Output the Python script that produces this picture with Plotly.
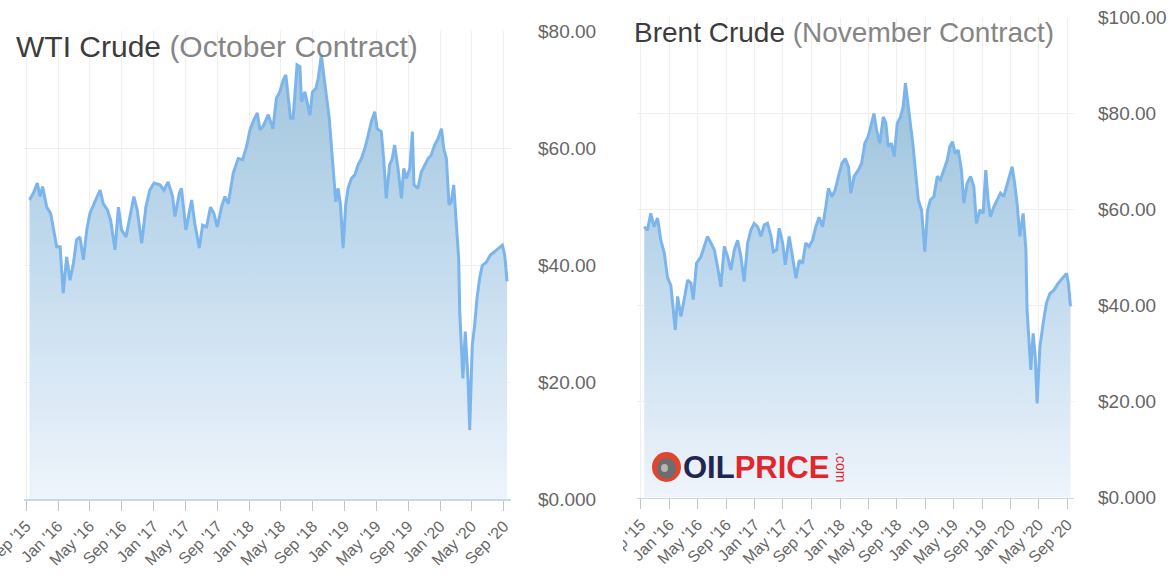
import plotly.graph_objects as go

W, H = 1169, 586

# ---------------- data ----------------
wti_dates = [
    "2015-09-14", "2015-09-29", "2015-10-14", "2015-10-24", "2015-11-03", "2015-11-19",
    "2015-12-04", "2015-12-14", "2015-12-27", "2016-01-09", "2016-01-21", "2016-02-03",
    "2016-02-16", "2016-02-29", "2016-03-12", "2016-03-25", "2016-04-07", "2016-04-20",
    "2016-05-02", "2016-05-18", "2016-06-10", "2016-06-22", "2016-07-08", "2016-07-20",
    "2016-08-06", "2016-08-19", "2016-08-31", "2016-09-17", "2016-10-02", "2016-10-17",
    "2016-10-30", "2016-11-16", "2016-12-02", "2016-12-17", "2017-01-02", "2017-01-25",
    "2017-02-09", "2017-02-25", "2017-03-14", "2017-03-23", "2017-04-09", "2017-04-17",
    "2017-05-04", "2017-05-26", "2017-06-07", "2017-06-24", "2017-07-07", "2017-07-22",
    "2017-08-06", "2017-08-19", "2017-09-01", "2017-09-17", "2017-09-30", "2017-10-13",
    "2017-11-01", "2017-11-20", "2017-12-07", "2017-12-22", "2018-01-04", "2018-01-16",
    "2018-02-01", "2018-02-11", "2018-02-23", "2018-03-15", "2018-04-02", "2018-04-15",
    "2018-04-28", "2018-05-11", "2018-05-21", "2018-05-30", "2018-06-08", "2018-06-18",
    "2018-06-28", "2018-07-03", "2018-07-14", "2018-07-20", "2018-08-02", "2018-08-11",
    "2018-08-21", "2018-08-31", "2018-09-13", "2018-09-22", "2018-10-04", "2018-10-13",
    "2018-10-23", "2018-11-03", "2018-11-12", "2018-11-20", "2018-11-28", "2018-12-07",
    "2018-12-16", "2018-12-26", "2019-01-05", "2019-01-14", "2019-01-27", "2019-02-09",
    "2019-02-21", "2019-03-06", "2019-03-19", "2019-04-01", "2019-04-13", "2019-04-26",
    "2019-05-05", "2019-05-21", "2019-05-30", "2019-06-09", "2019-06-22", "2019-07-02",
    "2019-07-11", "2019-07-24", "2019-08-06", "2019-08-15", "2019-08-25", "2019-09-07",
    "2019-09-17", "2019-09-23", "2019-10-08", "2019-10-21", "2019-11-03", "2019-11-16",
    "2019-11-28", "2019-12-11", "2019-12-24", "2020-01-06", "2020-01-15", "2020-01-25",
    "2020-02-04", "2020-02-13", "2020-02-22", "2020-03-03", "2020-03-12", "2020-03-16",
    "2020-03-22", "2020-03-28", "2020-04-06", "2020-04-17", "2020-04-23", "2020-05-03",
    "2020-05-12", "2020-05-21", "2020-05-31", "2020-06-10", "2020-06-26", "2020-07-11",
    "2020-07-27", "2020-08-09", "2020-08-26", "2020-09-04", "2020-09-13",
]
wti_prices = [
    51.1, 52.3, 54.0, 51.7, 53.4, 49.9,
    48.8, 46.0, 43.1, 43.1, 35.2, 41.4,
    37.4, 40.3, 44.3, 44.8, 40.9, 46.0,
    48.8, 50.5, 52.8, 50.5, 49.4, 47.7,
    42.6, 49.9, 46.0, 44.8, 48.3, 51.7,
    49.4, 43.7, 49.9, 52.8, 54.0, 53.7,
    52.8, 54.2, 51.7, 48.3, 52.3, 53.1,
    46.0, 51.1, 47.1, 42.9, 46.8, 46.5,
    49.9, 48.8, 46.5, 49.9, 51.7, 50.5,
    55.7, 58.2, 58.0, 60.3, 63.1, 64.5,
    66.0, 63.1, 63.7, 65.7, 63.3, 68.5,
    69.6, 71.6, 72.5, 69.0, 65.1, 65.1,
    70.8, 74.2, 73.9, 67.9, 69.6, 67.9,
    65.6, 69.6, 70.2, 71.9, 75.9, 72.5,
    69.0, 65.1, 59.9, 55.4, 50.8, 53.1,
    50.3, 42.9, 50.3, 53.1, 54.8, 55.4,
    57.1, 58.2, 59.9, 62.2, 64.5, 66.2,
    63.3, 62.8, 58.2, 51.4, 57.1, 58.2,
    60.5, 56.5, 51.4, 56.5, 54.8, 56.5,
    62.8, 53.7, 53.1, 55.9, 57.1, 58.2,
    58.8, 60.5, 61.6, 63.3, 59.9, 58.2,
    50.3, 50.8, 53.7, 46.8, 41.1, 32.0,
    26.9, 20.6, 28.6, 20.1, 11.8, 26.3,
    29.7, 34.3, 37.7, 39.9, 40.5, 41.7,
    42.3, 42.8, 43.4, 41.7, 37.2,
]

brent_dates = [
    "2015-09-15", "2015-09-29", "2015-10-13", "2015-10-27", "2015-11-11", "2015-11-25",
    "2015-12-10", "2015-12-24", "2016-01-07", "2016-01-17", "2016-01-26", "2016-02-05",
    "2016-02-19", "2016-03-04", "2016-03-19", "2016-04-02", "2016-04-12", "2016-04-26",
    "2016-05-15", "2016-05-29", "2016-06-12", "2016-06-27", "2016-07-11", "2016-07-25",
    "2016-08-08", "2016-08-23", "2016-09-06", "2016-09-20", "2016-10-05", "2016-10-19",
    "2016-11-02", "2016-11-16", "2016-12-01", "2016-12-15", "2016-12-29", "2017-01-13",
    "2017-01-27", "2017-02-10", "2017-02-24", "2017-03-11", "2017-03-21", "2017-04-04",
    "2017-04-15", "2017-04-30", "2017-05-11", "2017-05-28", "2017-06-11", "2017-06-26",
    "2017-07-10", "2017-07-24", "2017-08-07", "2017-08-21", "2017-09-05", "2017-09-19",
    "2017-10-03", "2017-10-18", "2017-11-01", "2017-11-12", "2017-11-27", "2017-12-11",
    "2017-12-25", "2018-01-09", "2018-01-23", "2018-02-06", "2018-02-16", "2018-03-02",
    "2018-03-20", "2018-04-03", "2018-04-17", "2018-05-01", "2018-05-16", "2018-05-26",
    "2018-06-06", "2018-06-20", "2018-07-05", "2018-07-16", "2018-07-26", "2018-08-09",
    "2018-08-21", "2018-09-03", "2018-09-17", "2018-09-28", "2018-10-08", "2018-10-20",
    "2018-10-30", "2018-11-10", "2018-11-22", "2018-12-02", "2018-12-16", "2018-12-30",
    "2019-01-11", "2019-01-23", "2019-02-07", "2019-02-21", "2019-03-07", "2019-03-21",
    "2019-04-05", "2019-04-16", "2019-04-28", "2019-05-08", "2019-05-22", "2019-06-05",
    "2019-06-15", "2019-06-29", "2019-07-14", "2019-07-28", "2019-08-08", "2019-08-23",
    "2019-09-06", "2019-09-17", "2019-09-27", "2019-10-07", "2019-10-22", "2019-11-05",
    "2019-11-19", "2019-12-03", "2019-12-18", "2019-12-29", "2020-01-08", "2020-01-19",
    "2020-01-29", "2020-02-10", "2020-02-24", "2020-03-07", "2020-03-12", "2020-03-19",
    "2020-03-28", "2020-04-07", "2020-04-16", "2020-04-24", "2020-05-06", "2020-05-20",
    "2020-06-03", "2020-06-18", "2020-07-05", "2020-07-23", "2020-08-11", "2020-08-28",
    "2020-09-05", "2020-09-14",
]
brent_prices = [
    56.4, 55.7, 59.2, 56.4, 58.2, 53.6,
    50.9, 45.7, 44.2, 39.8, 34.9, 41.9,
    37.7, 41.2, 45.3, 44.7, 41.2, 48.8,
    50.2, 52.3, 54.4, 53.0, 51.6, 48.1,
    43.9, 52.3, 50.2, 47.4, 51.6, 53.6,
    50.2, 45.0, 53.0, 55.7, 57.1, 56.4,
    54.4, 56.8, 57.1, 54.4, 51.2, 51.6,
    56.1, 53.0, 48.5, 54.4, 50.2, 45.7,
    49.4, 48.8, 53.0, 52.3, 53.6, 56.4,
    58.4, 56.4, 60.6, 64.4, 62.7, 64.1,
    66.9, 69.6, 70.6, 68.9, 63.4, 66.9,
    68.2, 69.6, 73.8, 75.2, 78.0, 80.0,
    76.6, 73.8, 79.3, 78.0, 73.1, 73.8,
    71.0, 78.0, 79.3, 81.4, 86.3, 81.4,
    78.6, 73.1, 66.9, 62.0, 59.9, 51.2,
    59.9, 62.0, 62.7, 66.9, 66.2, 68.2,
    70.3, 73.1, 74.1, 71.7, 72.4, 68.2,
    61.3, 65.4, 66.9, 64.8, 57.1, 59.9,
    59.2, 68.2, 62.0, 58.5, 60.6, 62.0,
    63.4, 62.7, 65.4, 66.9, 68.9, 65.4,
    61.3, 54.4, 59.2, 51.6, 39.1, 33.5,
    26.6, 34.2, 29.3, 19.6, 31.4, 36.3,
    40.5, 42.5, 43.2, 44.6, 45.7, 46.7,
    44.6, 39.8,
]

x_tick_dates = [
    "2015-09-01", "2016-01-01", "2016-05-01", "2016-09-01", "2017-01-01", "2017-05-01",
    "2017-09-01", "2018-01-01", "2018-05-01", "2018-09-01", "2019-01-01", "2019-05-01",
    "2019-09-01", "2020-01-01", "2020-05-01", "2020-09-01",
]
x_tick_text = [
    "Sep '15", "Jan '16", "May '16", "Sep '16", "Jan '17", "May '17",
    "Sep '17", "Jan '18", "May '18", "Sep '18", "Jan '19", "May '19",
    "Sep '19", "Jan '20", "May '20", "Sep '20",
]
wti_y_ticks = [0, 20, 40, 60, 80]
wti_y_text = ["$0.000", "$20.00", "$40.00", "$60.00", "$80.00"]
brent_y_ticks = [0, 20, 40, 60, 80, 100]
brent_y_text = ["$0.000", "$20.00", "$40.00", "$60.00", "$80.00", "$100.00"]

# ---------------- styling ----------------
FONT = "Liberation Sans, Arial, sans-serif"
LINE = "#7cb5ec"
GRID = "#efefef"
FILL_SCALE = [[0, "#eef4fb"], [0.5, "#c3dbee"], [1, "#9dc3db"]]


def px_x(p):
    return p / W


def px_y(p):
    return 1 - p / H


fig = go.Figure()

fig.add_trace(go.Scatter(
    x=wti_dates, y=wti_prices, mode="lines",
    line=dict(color=LINE, width=3),
    fill="tozeroy",
    fillgradient=dict(type="vertical", colorscale=FILL_SCALE, start=0, stop=80),
    xaxis="x", yaxis="y", hoverinfo="skip", showlegend=False,
))
fig.add_trace(go.Scatter(
    x=brent_dates, y=brent_prices, mode="lines",
    line=dict(color=LINE, width=3),
    fill="tozeroy",
    fillgradient=dict(type="vertical", colorscale=FILL_SCALE, start=0, stop=85),
    xaxis="x2", yaxis="y2", hoverinfo="skip", showlegend=False,
))

xcommon = dict(
    type="date", tickmode="array", tickvals=x_tick_dates, ticktext=x_tick_text,
    tickangle=-45, tickfont=dict(family=FONT, size=16, color="#666666"),
    ticklabeloverflow="allow",
    showgrid=True, gridcolor=GRID, gridwidth=1,
    showline=True, linecolor="#ccd6eb", linewidth=1.5,
    ticks="outside", ticklen=10, tickcolor="#c4c4c4", tickwidth=1,
    zeroline=False, fixedrange=True, automargin=False,
)
ycommon = dict(
    side="right", tickmode="array",
    tickfont=dict(family=FONT, size=19, color="#666666"),
    showgrid=True, gridcolor=GRID, gridwidth=1,
    zeroline=False, showline=False, ticks="", fixedrange=True, automargin=False,
)

fig.update_layout(
    width=W, height=H, autosize=False,
    margin=dict(l=0, r=0, t=0, b=0, pad=0),
    paper_bgcolor="white", plot_bgcolor="white",
    showlegend=False,
    xaxis=dict(xcommon, domain=[px_x(24), px_x(511)],
               range=["2015-08-24", "2020-09-28"], anchor="y"),
    yaxis=dict(ycommon, domain=[px_y(499), px_y(31)], range=[0, 80],
               tickvals=wti_y_ticks, ticktext=wti_y_text, anchor="x",
               ticklabelstandoff=26),
    xaxis2=dict(xcommon, domain=[px_x(637), px_x(1074)],
                range=["2015-08-15", "2020-09-29"], anchor="y2"),
    yaxis2=dict(ycommon, domain=[px_y(497.5), px_y(17.5)], range=[0, 100],
                tickvals=brent_y_ticks, ticktext=brent_y_text, anchor="x2",
                ticklabelstandoff=23),
)

annotations = [
    dict(text="<span style='color:#3c3c3c'>WTI Crude</span> "
              "<span style='color:#858585'>(October Contract)</span>",
         x=px_x(14), y=px_y(46), xref="paper", yref="paper",
         xanchor="left", yanchor="middle", showarrow=False,
         font=dict(family=FONT, size=30)),
    dict(text="<span style='color:#3c3c3c'>Brent Crude</span> "
              "<span style='color:#858585'>(November Contract)</span>",
         x=px_x(632), y=px_y(33), xref="paper", yref="paper",
         xanchor="left", yanchor="middle", showarrow=False,
         font=dict(family=FONT, size=28)),
    # logo text
    dict(text="<b><span style='color:#1f2650'>OIL</span>"
              "<span style='color:#e3262c'>PRICE</span></b>",
         x=px_x(681), y=px_y(467), xref="paper", yref="paper",
         xanchor="left", yanchor="middle", showarrow=False,
         font=dict(family=FONT, size=31)),
    dict(text=".com", x=px_x(841), y=px_y(467), xref="paper", yref="paper",
         xanchor="center", yanchor="middle", showarrow=False, textangle=90,
         font=dict(family=FONT, size=14, color="#e3262c")),
]
fig.update_layout(annotations=annotations)

shapes = [
    # logo circle
    dict(type="circle", xref="paper", yref="paper", layer="above",
         x0=px_x(652), x1=px_x(681), y0=px_y(482), y1=px_y(452),
         fillcolor="#e2452e", line=dict(width=0)),
    dict(type="circle", xref="paper", yref="paper", layer="above",
         x0=px_x(657), x1=px_x(676), y0=px_y(479), y1=px_y(458),
         fillcolor="#6d6d6d", line=dict(width=0)),
    dict(type="circle", xref="paper", yref="paper", layer="above",
         x0=px_x(661), x1=px_x(668), y0=px_y(472), y1=px_y(464),
         fillcolor="#b5b5b5", line=dict(width=0)),
    # hide the clipped part of the right panel's first tick label
    dict(type="rect", xref="paper", yref="paper", layer="above",
         x0=px_x(599), x1=px_x(623), y0=0, y1=px_y(500),
         fillcolor="white", line=dict(width=0)),
]
fig.update_layout(shapes=shapes)

# remove the browser's default 8px body margin so the figure sits at (0, 0)
fig.write_html("out.html",
               config={"displayModeBar": False, "staticPlot": True},
               post_script="document.body.style.margin='0';"
                           "document.body.style.overflow='hidden';")
